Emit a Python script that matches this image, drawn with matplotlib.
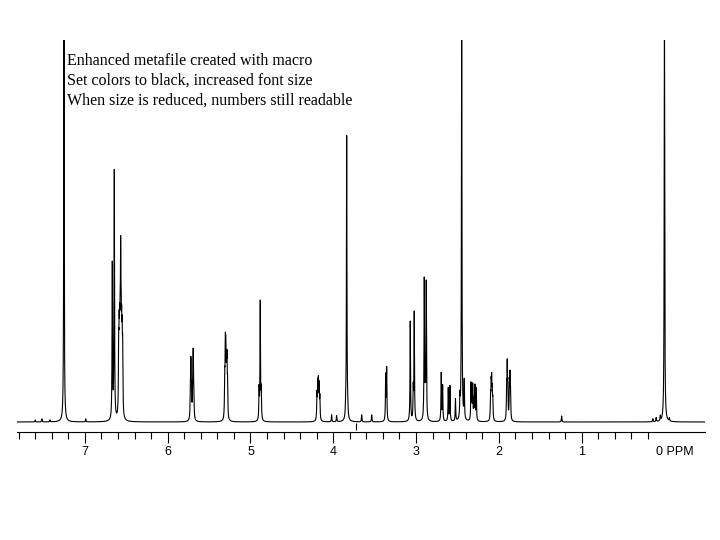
import numpy as np
import matplotlib
matplotlib.use("Agg")
import matplotlib.pyplot as plt
from matplotlib.transforms import ScaledTranslation

# PEAK LIST (ppm, height)

ppm_chcl3 = [7.60, 7.52, 7.42, 7.253, 6.99]
h_chcl3 = [2, 3, 2, 420, 3]

ppm_arom = [6.669, 6.645, 6.592, 6.586, 6.580, 6.574, 6.568, 6.562, 6.556, 6.550, 6.544]
h_arom = [155, 248, 62, 66, 64, 66, 135, 66, 64, 62, 58]

ppm_olef = [5.726, 5.722, 5.719, 5.712, 5.698, 5.694, 5.691, 5.684,
            5.311, 5.304, 5.300, 5.297, 5.290, 5.284, 5.277,
            4.896, 4.882, 4.870]
h_olef = [22, 25, 38, 25, 26, 28, 44, 22,
          36, 56, 30, 40, 38, 50, 32,
          30, 118, 28]

ppm_mid = [4.197, 4.188, 4.180, 4.171, 4.162, 4.02, 3.96,
           3.850, 3.838, 3.826, 3.657, 3.536, 3.367, 3.355,
           3.070, 3.034, 3.022, 2.901, 2.889, 2.877]
h_mid = [25, 33, 35, 32, 22, 7, 6,
         10, 285, 10, 7, 7, 45, 52,
         100, 30, 108, 140, 25, 137]

ppm_ali = [2.696, 2.679, 2.611, 2.591, 2.524, 2.470, 2.449, 2.418,
           2.337, 2.327, 2.316, 2.302, 2.289, 2.273,
           2.100, 2.093, 2.087, 2.080, 2.073,
           1.906, 1.899, 1.892, 1.873, 1.866, 1.859, 1.242]
h_ali = [48, 35, 33, 35, 22, 20, 420, 38,
         36, 20, 34, 20, 34, 32,
         22, 30, 34, 25, 18,
         30, 50, 30, 28, 40, 25, 6]

ppm_tms = [0.14, 0.10, 0.05, 0.0, -0.06]
h_tms = [3, 4, 5, 420, 3]

marker_ppm = 3.722

notes = ["Enhanced metafile created with macro",
         "Set colors to black, increased font size",
         "When size is reduced, numbers still readable"]

tick_ppm = [7, 6, 5, 4, 3, 2, 1, 0]
tick_txt = ["7", "6", "5", "4", "3", "2", "1", "0 PPM"]

# SPECTRUM

pos = np.array(ppm_chcl3 + ppm_arom + ppm_olef + ppm_mid + ppm_ali + ppm_tms)
alt = np.array(h_chcl3 + h_arom + h_olef + h_mid + h_ali + h_tms, dtype=float)
w = 0.0035

x = np.linspace(7.82, -0.49, 40000)
y = np.zeros_like(x)
for p, h in zip(pos, alt):
    y += h * w**2 / ((x - p)**2 + w**2)

fig = plt.figure(figsize=(7.2, 5.4), dpi=100)
ax = fig.add_axes([17 / 720, 108 / 540, 688 / 720, 392 / 540])

ax.plot(x, y, color="black", lw=0.8)
ax.vlines(marker_ppm, -8, -1.3, color="black", lw=0.8)

ax.set_xlim(7.82, -0.49)
ax.set_ylim(-10, 382)

for s in ["top", "left", "right"]:
    ax.spines[s].set_visible(False)
ax.spines["bottom"].set_linewidth(0.8)
ax.set_yticks([])

ax.set_xticks(tick_ppm)
ax.set_xticklabels(tick_txt, fontfamily="Liberation Sans", fontsize=9)
ax.set_xticks(np.arange(0.2, 7.81, 0.2), minor=True)
ax.tick_params(axis="x", which="major", length=8, width=0.8, pad=2)
ax.tick_params(axis="x", which="minor", length=5, width=0.8)

# the 0 has no tick, its label starts just left of it
ticks = ax.xaxis.get_major_ticks()
ticks[-1].tick1line.set_visible(False)
lab = ticks[-1].label1
lab.set_horizontalalignment("left")
lab.set_transform(lab.get_transform() + ScaledTranslation(-0.08, 0, fig.dpi_scale_trans))

for i, t in enumerate(notes):
    fig.text(67 / 720, 1 - (65.5 + 19.5 * i) / 540, t,
             fontfamily="Liberation Serif", fontsize=11.5, va="baseline")

fig.savefig("out.png", dpi=100)
